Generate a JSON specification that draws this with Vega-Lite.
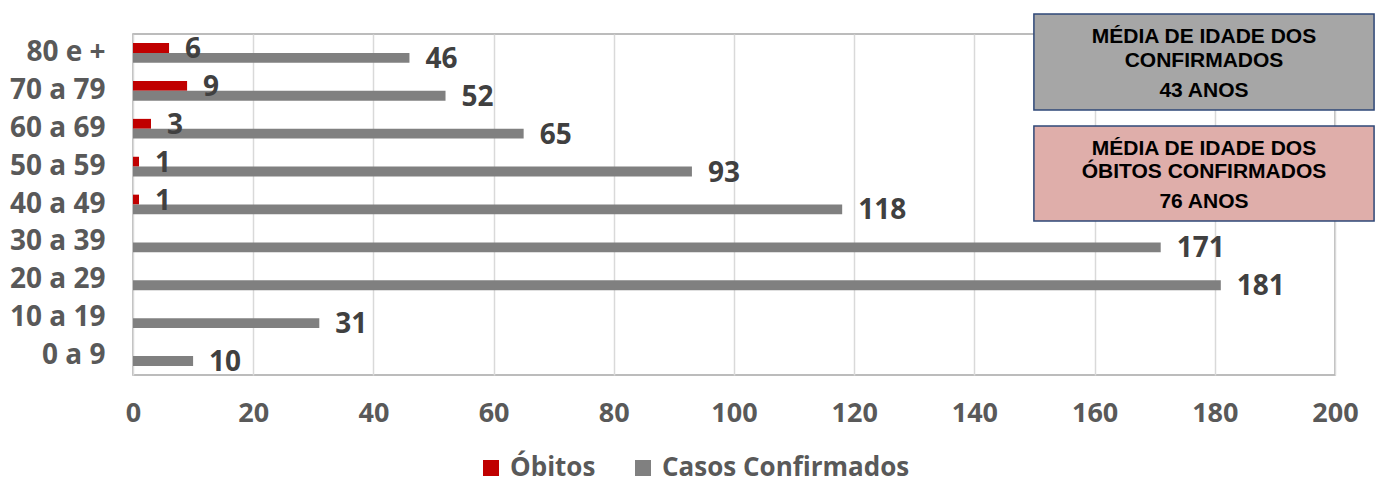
{
  "$schema": "https://vega.github.io/schema/vega-lite/v6.json",
  "width": 1202,
  "height": 341,
  "autosize": {"type": "none"},
  "padding": {"left": 133, "top": 34, "right": 41, "bottom": 107},
  "background": "white",
  "config": {
    "view": {"stroke": "#a6a6a6", "strokeWidth": 1.5},
    "font": "Open Sans"
  },
  "datasets": {
    "faixas": [
      {"faixa": "80 e +", "serie": "Óbitos", "valor": 6},
      {"faixa": "70 a 79", "serie": "Óbitos", "valor": 9},
      {"faixa": "60 a 69", "serie": "Óbitos", "valor": 3},
      {"faixa": "50 a 59", "serie": "Óbitos", "valor": 1},
      {"faixa": "40 a 49", "serie": "Óbitos", "valor": 1},
      {"faixa": "80 e +", "serie": "Casos Confirmados", "valor": 46},
      {"faixa": "70 a 79", "serie": "Casos Confirmados", "valor": 52},
      {"faixa": "60 a 69", "serie": "Casos Confirmados", "valor": 65},
      {"faixa": "50 a 59", "serie": "Casos Confirmados", "valor": 93},
      {"faixa": "40 a 49", "serie": "Casos Confirmados", "valor": 118},
      {"faixa": "30 a 39", "serie": "Casos Confirmados", "valor": 171},
      {"faixa": "20 a 29", "serie": "Casos Confirmados", "valor": 181},
      {"faixa": "10 a 19", "serie": "Casos Confirmados", "valor": 31},
      {"faixa": "0 a 9", "serie": "Casos Confirmados", "valor": 10}
    ],
    "caixas": [
      {"caixa": "conf", "x1": 149.9, "x2": 206.5, "y1": -0.528, "y2": 2.005},
      {"caixa": "obit", "x1": 149.9, "x2": 206.5, "y1": 2.427, "y2": 4.934}
    ],
    "linhas": [
      {"texto": "MÉDIA DE IDADE DOS", "x": 178.2, "y": 0.092},
      {"texto": "CONFIRMADOS", "x": 178.2, "y": 0.707},
      {"texto": "43 ANOS", "x": 178.2, "y": 1.499},
      {"texto": "MÉDIA DE IDADE DOS", "x": 178.2, "y": 3.039},
      {"texto": "ÓBITOS CONFIRMADOS", "x": 178.2, "y": 3.654},
      {"texto": "76 ANOS", "x": 178.2, "y": 4.446}
    ]
  },
  "layer": [
    {
      "data": {"name": "faixas"},
      "encoding": {
        "y": {
          "field": "faixa",
          "type": "nominal",
          "sort": ["80 e +", "70 a 79", "60 a 69", "50 a 59", "40 a 49", "30 a 39", "20 a 29", "10 a 19", "0 a 9"],
          "scale": {"paddingInner": 0.48, "paddingOuter": 0.24},
          "axis": {
            "title": null,
            "ticks": false,
            "domain": false,
            "labelPadding": 28,
            "labelFont": "Open Sans",
            "labelFontWeight": "bold",
            "labelFontSize": 28,
            "labelColor": "#595959"
          }
        },
        "yOffset": {
          "field": "serie",
          "type": "nominal",
          "sort": ["Óbitos", "Casos Confirmados"],
          "scale": {"domain": ["Óbitos", "Casos Confirmados"], "paddingInner": 0, "paddingOuter": 0}
        },
        "x": {
          "field": "valor",
          "type": "quantitative",
          "scale": {"domain": [0, 200], "nice": false},
          "axis": {
            "title": null,
            "values": [0, 20, 40, 60, 80, 100, 120, 140, 160, 180, 200],
            "grid": true,
            "gridColor": "#d9d9d9",
            "gridWidth": 1.5,
            "domain": false,
            "ticks": false,
            "labelFlush": false,
            "labelOverlap": false,
            "labelPadding": 25,
            "labelFont": "Open Sans",
            "labelFontWeight": "bold",
            "labelFontSize": 27,
            "labelColor": "#595959"
          }
        }
      },
      "layer": [
        {
          "mark": {"type": "bar"},
          "encoding": {
            "color": {
              "field": "serie",
              "type": "nominal",
              "sort": ["Óbitos", "Casos Confirmados"],
              "scale": {"domain": ["Óbitos", "Casos Confirmados"], "range": ["#c00000", "#808080"]},
              "legend": {
                "title": null,
                "orient": "none",
                "direction": "horizontal",
                "legendX": 345,
                "legendY": 421,
                "symbolType": "square",
                "symbolSize": 256,
                "symbolStrokeWidth": 0,
                "labelFont": "Open Sans",
                "labelFontWeight": "bold",
                "labelFontSize": 26,
                "labelColor": "#595959",
                "labelOffset": 6,
                "labelLimit": 400,
                "columnPadding": 34
              }
            }
          }
        },
        {
          "mark": {
            "type": "text",
            "align": "left",
            "baseline": "middle",
            "dx": 16,
            "dy": 2,
            "font": "Open Sans",
            "fontWeight": "bold",
            "fontSize": 28,
            "color": "#404040"
          },
          "encoding": {"text": {"field": "valor", "type": "quantitative"}}
        }
      ]
    },
    {
      "data": {"name": "caixas"},
      "encoding": {
        "x": {"field": "x1", "type": "quantitative", "scale": {"domain": [0, 200], "nice": false}, "axis": null},
        "x2": {"field": "x2"},
        "y": {"field": "y1", "type": "quantitative", "scale": {"domain": [0, 9], "nice": false, "zero": false, "reverse": true}, "axis": null},
        "y2": {"field": "y2"}
      },
      "layer": [
        {
          "mark": {"type": "rect", "fill": "#000000", "opacity": 0.3, "xOffset": 3, "yOffset": 4, "clip": false}
        },
        {
          "transform": [{"filter": "datum.caixa === 'conf'"}],
          "mark": {"type": "rect", "fill": "#a6a6a6", "stroke": "#2f4878", "strokeWidth": 1.5, "clip": false}
        },
        {
          "transform": [{"filter": "datum.caixa === 'obit'"}],
          "mark": {"type": "rect", "fill": "#dfaeaa", "stroke": "#2f4878", "strokeWidth": 1.5, "clip": false}
        }
      ]
    },
    {
      "data": {"name": "linhas"},
      "mark": {
        "type": "text",
        "align": "center",
        "baseline": "middle",
        "font": "Liberation Sans",
        "fontWeight": "bold",
        "fontSize": 21,
        "color": "#000000",
        "clip": false
      },
      "encoding": {
        "x": {"field": "x", "type": "quantitative", "scale": {"domain": [0, 200], "nice": false}, "axis": null},
        "y": {"field": "y", "type": "quantitative", "scale": {"domain": [0, 9], "nice": false, "zero": false, "reverse": true}, "axis": null},
        "text": {"field": "texto", "type": "nominal"}
      }
    }
  ],
  "resolve": {"scale": {"y": "independent"}, "axis": {"x": "independent"}}
}
